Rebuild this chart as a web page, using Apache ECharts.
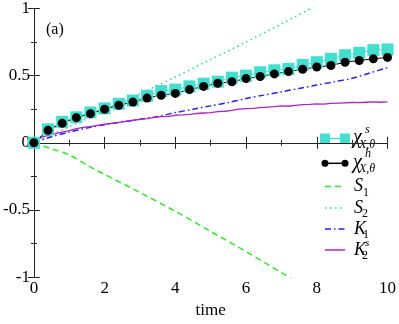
<!DOCTYPE html>
<html>
<head>
<meta charset="utf-8">
<script src="https://cdn.jsdelivr.net/npm/echarts@6/dist/echarts.min.js"></script>
<style>
  html, body { margin: 0; padding: 0; background: #fff; }
</style>
</head>
<body>
<div id="chart" style="width: 399px; height: 324px"></div>
<script>
// time grid of the symbol curves
const tSym = [0, 0.4, 0.8, 1.2, 1.6, 2.0, 2.4, 2.8, 3.2, 3.6, 4.0, 4.4, 4.8,
  5.2, 5.6, 6.0, 6.4, 6.8, 7.2, 7.6, 8.0, 8.4, 8.8, 9.2, 9.6, 10];
const chiS = [0, 0.10, 0.156, 0.19, 0.226, 0.256, 0.29, 0.315, 0.35, 0.385, 0.396, 0.42, 0.44,
  0.455, 0.485, 0.50, 0.525, 0.54, 0.55, 0.58, 0.60, 0.625, 0.652, 0.67, 0.69, 0.695];
const chiH = [0, 0.093, 0.145, 0.187, 0.217, 0.25, 0.28, 0.303, 0.333, 0.354, 0.368, 0.396, 0.42,
  0.443, 0.455, 0.478, 0.494, 0.513, 0.53, 0.548, 0.564, 0.576, 0.6, 0.613, 0.625, 0.636];

const tS1 = [0, 0.5, 1, 1.5, 2, 3, 4, 5, 6, 7, 8, 9, 10];
const s1 = [0, -0.045, -0.09, -0.167, -0.236, -0.37, -0.51, -0.66, -0.81, -0.967, -1.12, -1.28, -1.44];

const tS2 = [0, 1, 2, 3, 4, 5, 6, 7, 8, 9, 10];
const s2 = [0, 0.12, 0.24, 0.365, 0.49, 0.62, 0.75, 0.885, 1.025, 1.17, 1.32];

const tK1 = [0, 0.5, 1, 1.5, 2, 2.5, 3, 3.5, 4, 4.5, 5, 5.5, 6, 6.5, 7, 7.5, 8, 8.5, 9, 9.5, 10];
const k1 = [0, 0.045, 0.08, 0.11, 0.135, 0.155, 0.175, 0.195, 0.225, 0.25, 0.275, 0.30, 0.33,
  0.355, 0.38, 0.405, 0.43, 0.455, 0.48, 0.52, 0.56];

const tK2 = [0, 0.2, 0.4, 0.6, 0.8, 1.0, 1.2, 1.4, 1.6, 1.8, 2.0, 2.2, 2.4, 2.6, 2.8, 3.0, 3.2, 3.4,
  3.6, 3.8, 4.0, 4.2, 4.4, 4.6, 4.8, 5.0, 5.2, 5.4, 5.6, 5.8, 6.0, 6.2, 6.4, 6.6, 6.8, 7.0, 7.2,
  7.4, 7.6, 7.8, 8.0, 8.2, 8.4, 8.6, 8.8, 9.0, 9.2, 9.4, 9.6, 9.8, 10];
const k2 = [0, 0.04, 0.055, 0.068, 0.08, 0.09, 0.105, 0.115, 0.12, 0.13, 0.138, 0.145, 0.152,
  0.16, 0.168, 0.175, 0.18, 0.19, 0.195, 0.197, 0.205, 0.208, 0.212, 0.218, 0.222, 0.225, 0.232,
  0.235, 0.242, 0.25, 0.255, 0.256, 0.262, 0.266, 0.27, 0.275, 0.272, 0.278, 0.284, 0.286, 0.29,
  0.288, 0.294, 0.296, 0.298, 0.3, 0.299, 0.302, 0.304, 0.302, 0.305];

const colors = {
  chiS: '#40e0d0',
  chiH: '#000000',
  s1: '#33e633',
  s2: '#22dd88',
  k1: '#2020ff',
  k2: '#b020c8'
};

const pairs = (xs, ys) => xs.map((x, i) => [x, ys[i]]);

const serif = 'Liberation Serif';

const xBase = {
  type: 'value', min: 0, max: 10, interval: 2,
  axisLine: { show: true, lineStyle: { color: '#222', width: 1 } },
  axisTick: { show: true, inside: true, length: 6, lineStyle: { color: '#222' } },
  minorTick: { show: true, splitNumber: 2, length: 3, lineStyle: { color: '#222' } },
  splitLine: { show: false }
};
const yBase = {
  type: 'value', min: -1, max: 1, interval: 0.5,
  axisLine: { show: true, lineStyle: { color: '#222', width: 1 } },
  axisTick: { show: true, inside: true, length: 6, lineStyle: { color: '#222' } },
  minorTick: { show: true, splitNumber: 2, length: 3, lineStyle: { color: '#222' } },
  splitLine: { show: false }
};

// legend drawn by hand: markers then labels
const legendX0 = 325, legendX1 = 345, textX = 353;
const rows = [138.5, 163.3, 186.5, 208, 229, 250];
const legend = [];
function seg(y, color, dash) {
  legend.push({ type: 'line', shape: { x1: legendX0, y1: y, x2: legendX1, y2: y },
    style: { stroke: color, lineWidth: 1.5, lineDash: dash || null } });
}
seg(rows[0], colors.chiS);
[legendX0, legendX1].forEach(x => legend.push({ type: 'rect',
  shape: { x: x - 5, y: rows[0] - 5, width: 10, height: 10 }, style: { fill: colors.chiS } }));
seg(rows[1], colors.chiH);
[legendX0, legendX1].forEach(x => legend.push({ type: 'circle',
  shape: { cx: x, cy: rows[1], r: 3.5 }, style: { fill: colors.chiH } }));
seg(rows[2], colors.s1, [6, 4]);
seg(rows[3], colors.s2, [1.5, 3.5]);
seg(rows[4], colors.k1, [6, 3, 1.5, 3]);
seg(rows[5], colors.k2);

function txt(x, y, s, size, italic) {
  legend.push({ type: 'text', x: x, y: y,
    style: { text: s, fill: '#000', font: (italic ? 'italic ' : '') + size + 'px "' + serif + '"',
      verticalAlign: 'middle', align: 'left' } });
}
// chi^s_{X,θ}
txt(textX, rows[0] - 1, 'χ', 20, true);
txt(textX + 12, rows[0] - 9, 's', 12, true);
txt(textX + 6, rows[0] + 6, 'X,θ', 12, true);
// chi^h_{X,θ}
txt(textX, rows[1] - 1, 'χ', 20, true);
txt(textX + 12, rows[1] - 9, 'h', 12, true);
txt(textX + 6, rows[1] + 6, 'X,θ', 12, true);
// S1, S2, K1, K2^s
txt(textX + 1, rows[2], 'S', 18, true);
txt(textX + 10, rows[2] + 6, '1', 12, false);
txt(textX + 1, rows[3], 'S', 18, true);
txt(textX + 9, rows[3] + 6, '2', 12, false);
txt(textX + 1, rows[4], 'K', 18, true);
txt(textX + 10, rows[4] + 6, '1', 12, false);
txt(textX + 1, rows[5], 'K', 18, true);
txt(textX + 12, rows[5] - 7, 's', 11, true);
txt(textX + 9, rows[5] + 6, '2', 12, false);
// panel tag
txt(46, 30, '(a)', 16, false);

const chart = echarts.init(document.getElementById('chart'), null, { renderer: 'canvas' });

const option = {
  animation: false,
  backgroundColor: '#fff',
  textStyle: { fontFamily: serif },
  grid: { left: 32, right: 10, top: 7, bottom: 32, containLabel: false },
  xAxis: [
    Object.assign({}, xBase, {
      position: 'bottom',
      name: 'time', nameLocation: 'middle', nameGap: 23,
      nameTextStyle: { fontFamily: serif, fontSize: 17, color: '#000' },
      axisLabel: { show: true, margin: 3, fontFamily: serif, fontSize: 17, color: '#000' }
    }),
    Object.assign({}, xBase, { position: 'top', axisLabel: { show: false } })
  ],
  yAxis: [
    Object.assign({}, yBase, {
      position: 'left',
      axisLabel: { show: true, margin: 4, fontFamily: serif, fontSize: 17, color: '#000',
        formatter: v => String(v) }
    }),
    Object.assign({}, yBase, { position: 'right', axisLabel: { show: false } })
  ],
  series: [
    { name: 'S1', type: 'line', data: pairs(tS1, s1), smooth: 0.3, showSymbol: false, clip: true,
      lineStyle: { color: colors.s1, width: 1.5, type: [6, 4] } },
    { name: 'S2', type: 'line', data: pairs(tS2, s2), smooth: 0.3, showSymbol: false, clip: true,
      lineStyle: { color: colors.s2, width: 1.5, type: [1.5, 3.5] } },
    { name: 'K1', type: 'line', data: pairs(tK1, k1), smooth: 0.3, showSymbol: false, clip: true,
      lineStyle: { color: colors.k1, width: 1.5, type: [6, 3, 1.5, 3] } },
    { name: 'K2s', type: 'line', data: pairs(tK2, k2), showSymbol: false, clip: true,
      lineStyle: { color: colors.k2, width: 1.3 } },
    { name: 'chiS', type: 'line', data: pairs(tSym, chiS), symbol: 'rect', symbolSize: 12,
      showAllSymbol: true, clip: true,
      itemStyle: { color: colors.chiS }, lineStyle: { color: colors.chiS, width: 1 } },
    { name: 'chiH', type: 'line', data: pairs(tSym, chiH), symbol: 'circle', symbolSize: 9,
      showAllSymbol: true, clip: true,
      itemStyle: { color: colors.chiH }, lineStyle: { color: colors.chiH, width: 1 } }
  ],
  graphic: legend
};
chart.setOption(option);
</script>
</body>
</html>
